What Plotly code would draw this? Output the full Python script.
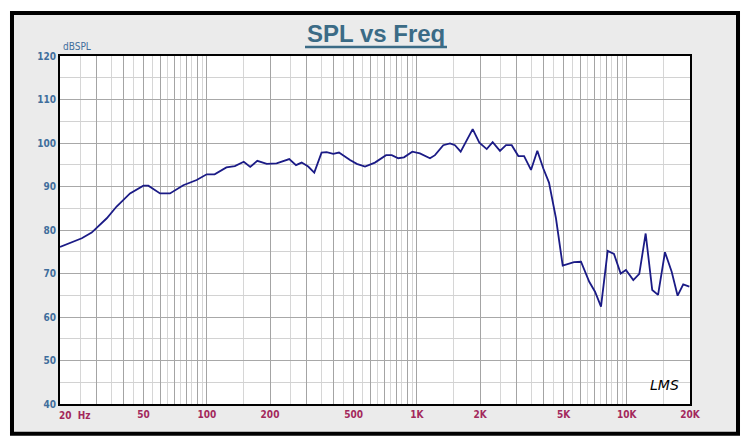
import plotly.graph_objects as go

# ---- data ----
freq_hz = [20, 23.1, 25.4, 28.3, 33.4, 37.2, 43.1, 49.9, 52.7, 59.9, 66.8, 77.3, 89.5, 99.9,
           109, 124, 136, 150, 161, 174, 193, 215, 247, 266, 283, 304, 325, 352, 372, 400,
           426, 481, 518, 567, 632, 714, 760, 816, 869, 952, 1035, 1156, 1221, 1337, 1439,
           1520, 1618, 1846, 1986, 2153, 2298, 2490, 2660, 2832, 3045, 3243, 3498, 3750,
           4000, 4262, 4600, 4953, 5264, 5605, 6054, 6626, 7060, 7538, 8110, 8690, 9354,
           9910, 10740, 11470, 12300, 13220, 14090, 15200, 16360, 17460, 18570, 19860]
spl_db = [76.1, 77.3, 78.1, 79.4, 82.7, 85.4, 88.4, 90.2, 90.2, 88.4, 88.4, 90.3, 91.5, 92.8,
          92.8, 94.4, 94.7, 95.7, 94.5, 95.9, 95.2, 95.3, 96.3, 94.9, 95.5, 94.6, 93.2, 97.8,
          97.9, 97.5, 97.8, 96.1, 95.2, 94.6, 95.5, 97.2, 97.2, 96.5, 96.7, 98.0, 97.6, 96.5,
          97.2, 99.5, 99.9, 99.5, 98.0, 103.2, 100.1, 98.6, 100.2, 98.2, 99.5, 99.5, 97.0,
          97.0, 93.8, 98.2, 94.2, 90.9, 82.7, 71.8, 72.2, 72.6, 72.7, 68.1, 65.8, 62.4, 75.2,
          74.5, 70.0, 70.8, 68.5, 69.9, 79.2, 66.2, 65.1, 74.9, 70.4, 64.9, 67.5, 67.0]

x_major_vals = [20, 30, 40, 50, 60, 70, 80, 90, 100, 200, 300, 400, 500, 600, 700, 800, 900,
                1000, 2000, 3000, 4000, 5000, 6000, 7000, 8000, 9000, 10000, 20000]
x_minor_vals = [25, 35, 45, 55, 65, 75, 85, 95, 150, 250, 350, 450, 550, 650, 750, 850, 950,
                1500, 2500, 3500, 4500, 5500, 6500, 7500, 8500, 9500, 15000]
x_label_map = {50: "50", 100: "100", 200: "200", 500: "500", 1000: "1K", 2000: "2K",
               5000: "5K", 10000: "10K", 20000: "20K"}
x_tick_text = [x_label_map.get(v, "") for v in x_major_vals]
y_tick_vals = [40, 50, 60, 70, 80, 90, 100, 110, 120]

BLUE = "#3f6e9c"
RED = "#a3285c"
TITLE = "#3b6b86"
NARROW = "DejaVu Sans Condensed, Liberation Sans, Arial, sans-serif"

fig = go.Figure()
fig.add_trace(go.Scatter(x=freq_hz, y=spl_db, mode="lines",
                         line=dict(color="#1b1b86", width=1.8), hoverinfo="skip",
                         showlegend=False))

fig.update_layout(
    width=750, height=446, autosize=False,
    margin=dict(l=60, r=60, t=56, b=42),
    paper_bgcolor="white", plot_bgcolor="white",
    xaxis=dict(type="log", range=[1.30103, 4.30103], tickmode="array",
               tickvals=x_major_vals, ticktext=x_tick_text,
               showgrid=True, gridcolor="#a4a4a4", gridwidth=1,
               minor=dict(tickmode="array", tickvals=x_minor_vals, showgrid=True,
                          gridcolor="#d6d6d6", gridwidth=1, ticks=""),
               ticks="", showline=True, linecolor="black", linewidth=2, mirror=True,
               tickfont=dict(family=NARROW, size=10, color=RED, weight="bold"),
               zeroline=False),
    yaxis=dict(range=[40, 120], tickmode="array", tickvals=y_tick_vals,
               showgrid=True, gridcolor="#a8a8a8", gridwidth=1,
               minor=dict(dtick=5, showgrid=True, gridcolor="#d2d2d2", ticks=""),
               ticks="", showline=True, linecolor="black", linewidth=2, mirror=True,
               tickfont=dict(family=NARROW, size=10, color=BLUE, weight="bold"),
               zeroline=False),
    shapes=[
        dict(type="rect", xref="paper", yref="paper", x0=-0.0762, x1=1.0762,
             y0=-0.0854, y1=1.1236, fillcolor="#ebebeb",
             line=dict(color="black", width=4), layer="below"),
        dict(type="rect", xref="paper", yref="paper", x0=0, x1=1, y0=0, y1=1,
             fillcolor="white", line=dict(width=0), layer="below"),
        dict(type="line", xref="paper", yref="paper", x0=0.3889, x1=0.6143,
             y0=1.0259, y1=1.0259, line=dict(color=TITLE, width=2.5)),
    ],
    annotations=[
        dict(text="<b>SPL vs Freq</b>", xref="paper", yref="paper", x=0.5016, y=1.066,
             xanchor="center", yanchor="middle", showarrow=False,
             font=dict(family="Liberation Sans", size=24, color=TITLE)),
        dict(text="dBSPL", xref="paper", yref="paper", x=0.002, y=1.005,
             xanchor="left", yanchor="bottom", showarrow=False,
             font=dict(family=NARROW, size=10, color=BLUE)),
        dict(text="<b>20  Hz</b>", xref="x", yref="paper", x=1.30103, y=-0.012,
             xanchor="left", yanchor="top", showarrow=False, xshift=-3,
             font=dict(family=NARROW, size=10, color=RED)),
        dict(text="<i>LMS</i>", xref="paper", yref="paper", x=0.985, y=0.025,
             xanchor="right", yanchor="bottom", showarrow=False,
             font=dict(family="DejaVu Sans", size=14, color="black")),
    ],
)

fig.write_html("out.html", config={"displayModeBar": False},
               post_script="document.body.style.margin='0';document.body.style.padding='0';")
